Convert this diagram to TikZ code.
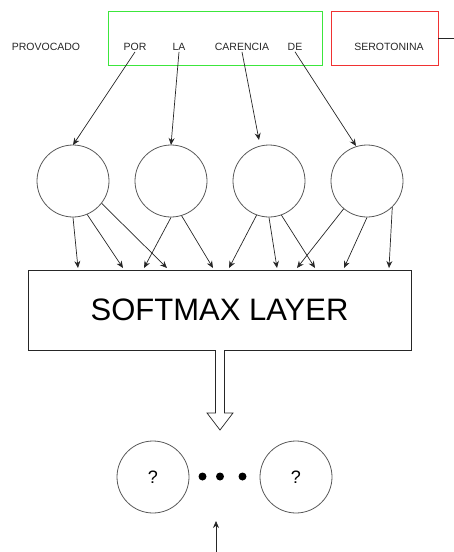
\documentclass[tikz,border=0pt]{standalone}
\usepackage{fontspec}
\setmainfont{Liberation Sans}
\usetikzlibrary{arrows.meta}
\begin{document}
\begin{tikzpicture}[x=1pt,y=-1pt,
  word/.style={font=\fontsize{10.5}{12}\selectfont, text=black!85, inner sep=1pt},
  neuron/.style={circle, draw=black!65, line width=0.8pt, minimum size=72pt, inner sep=0pt},
  conn/.style={draw=black!85, line width=0.7pt, -{Stealth[length=7pt,width=6pt]}},
  dotmark/.style={circle, fill=black, minimum size=8pt, inner sep=0pt}
]
\useasboundingbox (0,0) rectangle (454,552);

% input sentence
\draw[draw={rgb,255:red,60;green,230;blue,60}, line width=0.8pt] (108,11) rectangle (322,65);
\draw[draw={rgb,255:red,240;green,50;blue,50}, line width=0.8pt] (331,11) rectangle (438,65);
\coordinate (redr) at (438,38);
\coordinate (redout) at (454,38);
\draw[black!85, line width=0.7pt] (redr) -- (redout);

\node[word] (w0) at (46,47) {PROVOCADO};
\node[word] (w1) at (135,47) {POR};
\node[word] (w2) at (179,47) {LA};
\node[word] (w3) at (242,47) {CARENCIA};
\node[word] (w4) at (295,47) {DE};
\node[word] (w5) at (389,47) {SEROTONINA};

% hidden units
\node[neuron] (c1) at (73,181) {};
\node[neuron] (c2) at (171,181) {};
\node[neuron] (c3) at (269,181) {};
\node[neuron] (c4) at (367,181) {};

\coordinate (t1) at (73,145);
\coordinate (t2) at (171,145);
\coordinate (t3) at (259,140);
\coordinate (t4) at (356,146);
\draw[conn] (w1.south) -- (t1);
\draw[conn] (w2.south) -- (t2);
\draw[conn] (w3.south) -- (t3);
\draw[conn] (w4.south) -- (t4);

% softmax layer
\node[draw=black!85, line width=0.8pt, minimum width=383pt, minimum height=80pt, inner sep=0pt,
      font=\fontsize{31}{36}\selectfont] (sm) at (219.5,310) {SOFTMAX LAYER};

\foreach \n/\x in {a/78,b/123,c/167,d/144,e/213,f/229,g/277,h/315,i/297,j/344,k/389}
  \coordinate (e\n) at (\x,268);

\draw[conn] (c1.-90) -- (ea);
\draw[conn] (c1.-67) -- (eb);
\draw[conn] (c1.-38) -- (ec);
\draw[conn] (c2.-90) -- (ed);
\draw[conn] (c2.-73) -- (ee);
\draw[conn] (c3.-110) -- (ef);
\draw[conn] (c3.-90) -- (eg);
\draw[conn] (c3.-70) -- (eh);
\draw[conn] (c4.-130) -- (ei);
\draw[conn] (c4.-90) -- (ej);
\draw[conn] (c4.-46) -- (ek);

% hollow block arrow to the outputs
\coordinate (ha) at (215.5,350);
\draw[black!85, line width=0.7pt, fill=white]
  (ha) -- (215.5,413) -- (207,413) -- (220,430) -- (233,413) -- (224.5,413) -- (224.5,350);

% output units
\node[neuron, font=\fontsize{18}{20}\selectfont] (o1) at (153,477) {?};
\node[neuron, font=\fontsize{18}{20}\selectfont] (o2) at (296,477) {?};
\node[dotmark] (d1) at (202.5,476.5) {};
\node[dotmark] (d2) at (220,476.5) {};
\node[dotmark] (d3) at (242.5,476.5) {};

\coordinate (bin) at (216,552);
\coordinate (bup) at (216,521);
\draw[conn] (bin) -- (bup);
\end{tikzpicture}
\end{document}
